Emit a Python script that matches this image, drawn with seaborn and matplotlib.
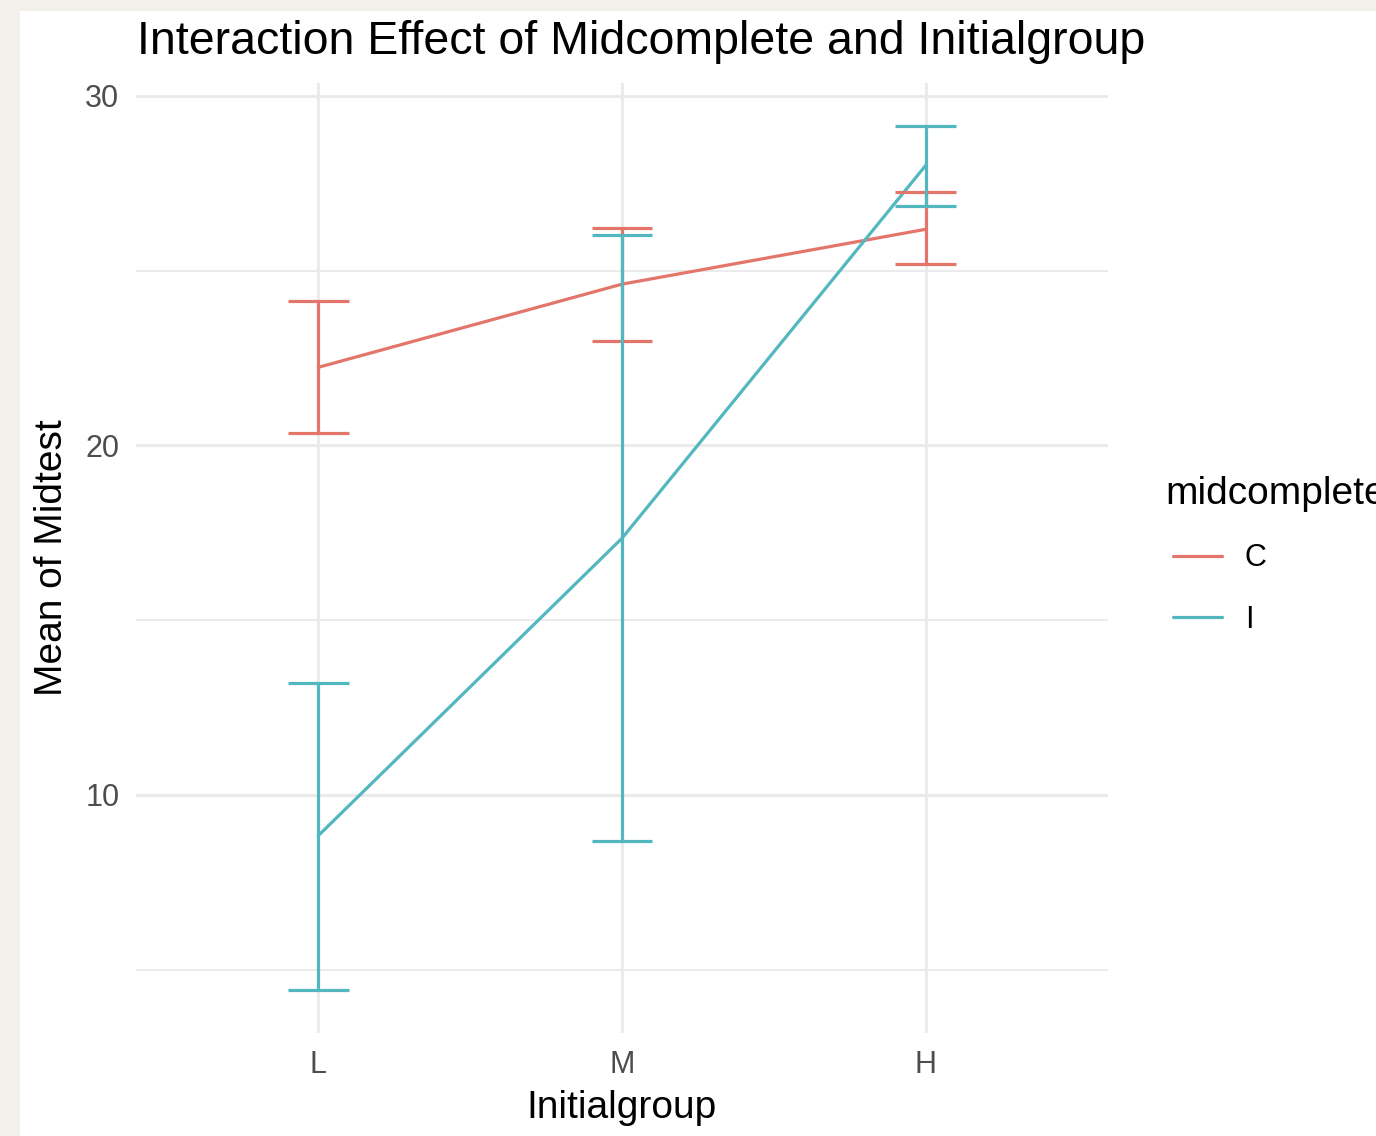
import matplotlib
matplotlib.use("Agg")
import matplotlib.pyplot as plt
from matplotlib.patches import Rectangle
from matplotlib.lines import Line2D
from matplotlib.legend_handler import HandlerLine2D
import numpy as np
import pandas as pd
import seaborn as sns

# Group means of Midtest with confidence limits
initialgroup = ["L", "M", "H"]
mean_c = [22.23, 24.61, 26.18]
lower_c = [20.34, 22.98, 25.18]
upper_c = [24.12, 26.21, 27.24]
mean_i = [8.83, 17.34, 28.01]
lower_i = [4.42, 8.68, 26.84]
upper_i = [13.20, 26.01, 29.13]
levels = ["C", "I"]
palette = {"C": "#E4756A", "I": "#53B7BF"}

df = pd.DataFrame({
    "Initialgroup": initialgroup * 2,
    "pos": list(range(len(initialgroup))) * 2,
    "midcomplete": ["C"] * 3 + ["I"] * 3,
    "mean": mean_c + mean_i,
    "lower": lower_c + lower_i,
    "upper": upper_c + upper_i,
})

sns.set_theme(style="white")
plt.rcParams["font.family"] = ["Liberation Sans", "DejaVu Sans"]

W, H = 1376, 1136
fig = plt.figure(figsize=(W / 100, H / 100), dpi=100, facecolor="#F3F0EB")
fig.patches.append(Rectangle((20 / W, 0), 1 - 20 / W, 1 - 11 / H,
                             transform=fig.transFigure, facecolor="white",
                             edgecolor="none", zorder=-5))

ax = fig.add_axes([136 / W, 103 / H, (1108 - 136) / W, (1033 - 83) / H])
ax.set_facecolor("none")

lw = 2.3
sns.lineplot(data=df, x="pos", y="mean", hue="midcomplete", palette=palette,
             hue_order=levels, linewidth=lw, legend=False, ax=ax, zorder=3)

cap = 0.1
for lvl in levels:
    sub = df[df["midcomplete"] == lvl]
    col = palette[lvl]
    ax.vlines(sub["pos"], sub["lower"], sub["upper"], color=col, lw=lw, zorder=3)
    ax.hlines(sub["lower"], sub["pos"] - cap, sub["pos"] + cap, color=col, lw=lw, zorder=3)
    ax.hlines(sub["upper"], sub["pos"] - cap, sub["pos"] + cap, color=col, lw=lw, zorder=3)

lo, hi = df["lower"].min(), df["upper"].max()
pad = 0.05 * (hi - lo)
ax.set_ylim(lo - pad, hi + pad)
ax.set_xlim(-0.6, len(initialgroup) - 1 + 0.6)

ax.set_xticks(range(len(initialgroup)))
ax.set_xticklabels(initialgroup)
ax.set_yticks([10, 20, 30])
ax.set_yticks([5, 15, 25], minor=True)
ax.set_axisbelow(True)
ax.grid(True, which="major", color="#EBEBEB", lw=2.2)
ax.grid(True, which="minor", axis="y", color="#EBEBEB", lw=1.4)
ax.tick_params(axis="both", which="both", length=0, labelsize=22, labelcolor="#4D4D4D")
ax.tick_params(axis="y", pad=12)
ax.tick_params(axis="x", pad=12)
for s in ax.spines.values():
    s.set_visible(False)
ax.set_xlabel("")
ax.set_ylabel("")

fig.text(137 / W, 1 - 54 / H, "Interaction Effect of Midcomplete and Initialgroup",
         fontsize=33.5, color="black", ha="left", va="baseline")
fig.text(622 / W, 18 / H, "Initialgroup", fontsize=28, color="black",
         ha="center", va="baseline")
fig.text(52 / W, 1 - 558 / H, "Mean of Midtest", fontsize=28, color="black",
         ha="center", va="center", rotation=90)

handles = [Line2D([], [], color=palette[l], lw=lw) for l in levels]
leg = fig.legend(handles, levels, title="midcomplete", loc="upper left",
                 bbox_to_anchor=(1165 / W, 1 - 476 / H), frameon=False,
                 fontsize=22, title_fontsize=28, handlelength=1.86,
                 handletextpad=0.75, labelspacing=1.03, alignment="left",
                 borderaxespad=0, borderpad=0,
                 handler_map={Line2D: HandlerLine2D(xpad=0.26)})
leg.get_title().set_color("black")
for t in leg.get_texts():
    t.set_color("black")

fig.savefig("out.png", dpi=100, facecolor=fig.get_facecolor())
